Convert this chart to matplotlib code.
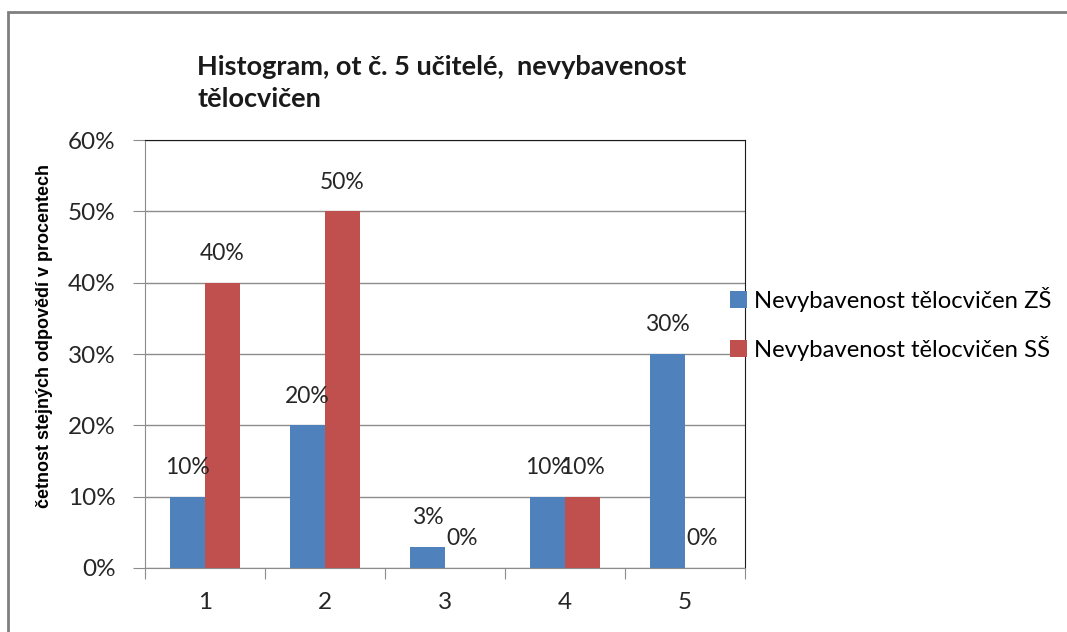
import numpy as np
import matplotlib.pyplot as plt
from matplotlib.patches import Rectangle

categories = ["1", "2", "3", "4", "5"]
zs_values = [10, 20, 3, 10, 30]
ss_values = [40, 50, 0, 10, 0]
series_names = ["Nevybavenost tělocvičen ZŠ", "Nevybavenost tělocvičen SŠ"]
y_ticks = [0, 10, 20, 30, 40, 50, 60]

title = "Histogram, ot č. 5 učitelé,  nevybavenost\ntělocvičen"
y_label = "četnost stejných odpovědí v procentech"

blue = "#4F81BD"
red = "#C0504D"
font = ["Lato", "DejaVu Sans"]
narrow = ["Liberation Sans Narrow", "Liberation Sans", "DejaVu Sans"]

fig = plt.figure(figsize=(10.67, 6.32), dpi=100)
ax = fig.add_axes([145 / 1067, 1 - 568 / 632, 600 / 1067, 428 / 632])

# outer chart border (only top and left visible)
fig.add_artist(Rectangle((8 / 1067, -0.1), 1.2, (1 - 12 / 632) + 0.1,
                         transform=fig.transFigure, fill=False,
                         edgecolor="#7f7f7f", linewidth=2))

x = np.arange(1, len(categories) + 1)
w = 0.29
b1 = ax.bar(x - w / 2, zs_values, w, color=blue, label=series_names[0], zorder=3)
b2 = ax.bar(x + w / 2, ss_values, w, color=red, label=series_names[1], zorder=3)

for bars, vals in ((b1, zs_values), (b2, ss_values)):
	for bar, v in zip(bars, vals):
		ax.annotate(f"{v}%", (bar.get_x() + bar.get_width() / 2, bar.get_height()),
		            xytext=(0, 21), textcoords="offset points",
		            ha="center", va="center", fontsize=16.5, family=font,
		            color="#262626", zorder=4)

ax.set_xlim(0.5, 5.5)
ax.set_ylim(0, 60)
ax.set_yticks(y_ticks)
ax.set_yticklabels([f"{t}%" for t in y_ticks], family=font, fontsize=17.5, color="#262626")
ax.yaxis.grid(True, color="#8c8c8c", linewidth=1, zorder=0)
ax.set_axisbelow(True)

ax.set_xticks(np.arange(0.5, 6, 1), minor=False)
ax.set_xticklabels([])
ax.set_xticks(x, minor=True)
ax.set_xticklabels(categories, minor=True, family=font, fontsize=17.5, color="#262626")
ax.tick_params(axis="x", which="major", length=8, direction="out", color="#8c8c8c")
ax.tick_params(axis="x", which="minor", length=0, pad=17)
ax.tick_params(axis="y", length=9, direction="out", color="#8c8c8c", pad=12)

for s in ("left", "bottom"):
	ax.spines[s].set_color("#8c8c8c")
for s in ("top", "right"):
	ax.spines[s].set_color("#1a1a1a")

ax.set_ylabel(y_label, family=narrow, fontweight="bold", fontsize=13)
ax.yaxis.set_label_coords(-(145 - 53) / 600, (568 - 336) / 428)

fig.text(197 / 1067, 1 - 55 / 632, title, family=font, fontweight="bold",
         fontsize=19.5, va="top", ha="left", linespacing=1.4, color="#1a1a1a")

leg = ax.legend(loc="upper left", bbox_to_anchor=(730 / 1067, 1 - 287 / 632),
                bbox_transform=fig.transFigure, frameon=False, prop={"family": font, "size": 17.2},
                handlelength=0.7, handleheight=0.7, handletextpad=0.3, labelspacing=1.0,
                borderpad=0, borderaxespad=0)

fig.savefig("out.png", dpi=100, facecolor="white")
